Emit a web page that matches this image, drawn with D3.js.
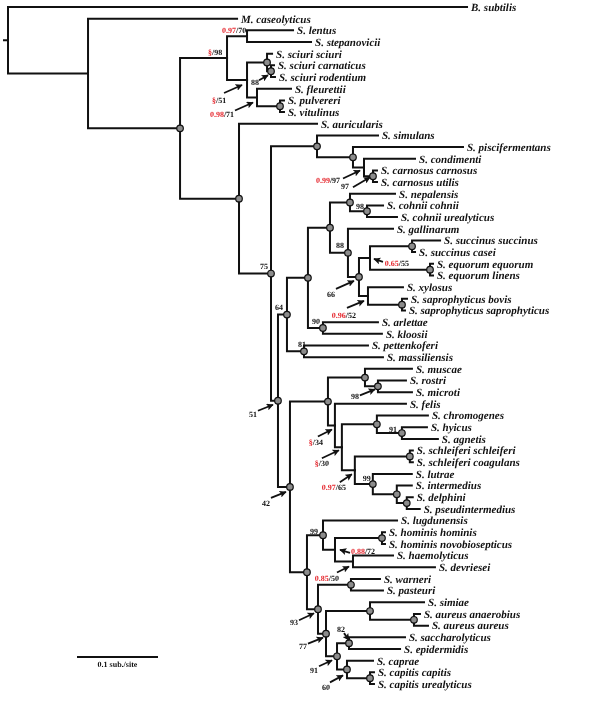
<!DOCTYPE html>
<html><head><meta charset="utf-8">
<script src="https://cdn.jsdelivr.net/npm/d3@7"></script>
<style>body{margin:0;background:#fff}svg{display:block}
svg text{-webkit-font-smoothing:antialiased;text-rendering:geometricPrecision}
.txt{opacity:0.999;will-change:transform}</style>
</head><body>
<svg id="chart" width="600" height="707"></svg>
<script>
// ---------- DATA ----------
// tree edges in preorder: [node, parent, branch length (sub./site)]
const edges = [
 ["root","",0],
 ["B. subtilis","root",0.5667],
 ["A","root",0.0988],
 ["M. caseolyticus","A",0.1840],
 ["B","A",0.1136],
 ["C","B",0.0580],
 ["D","C",0.0247],
 ["S. lentus","D",0.0568],
 ["S. stepanovicii","D",0.0790],
 ["E","C",0.0247],
 ["Sc","E",0.0247],
 ["S. sciuri sciuri","Sc",0.0062],
 ["Sc2","Sc",0.0049],
 ["S. sciuri carnaticus","Sc2",0.0037],
 ["S. sciuri rodentium","Sc2",0.0049],
 ["F","E",0.0123],
 ["S. fleurettii","F",0.0420],
 ["PV","F",0.0284],
 ["S. pulvereri","PV",0.0049],
 ["S. vitulinus","PV",0.0049],
 ["G","B",0.0728],
 ["S. auricularis","G",0.0963],
 ["H","G",0.0395],
 ["I","H",0.0568],
 ["S. simulans","I",0.0753],
 ["BA","I",0.0444],
 ["S. piscifermentans","BA",0.1358],
 ["BB","BA",0.0136],
 ["S. condimenti","BB",0.0630],
 ["CA","BB",0.0111],
 ["S. carnosus carnosus","CA",0.0049],
 ["S. carnosus utilis","CA",0.0049],
 ["J","H",0.0086],
 ["K","J",0.0111],
 ["M","K",0.0259],
 ["N","M",0.0272],
 ["O","N",0.0247],
 ["S. nepalensis","O",0.0556],
 ["CO","O",0.0210],
 ["S. cohnii cohnii","CO",0.0198],
 ["S. cohnii urealyticus","CO",0.0370],
 ["P","N",0.0222],
 ["S. gallinarum","P",0.0556],
 ["Q","P",0.0136],
 ["R","Q",0.0136],
 ["SU","R",0.0519],
 ["S. succinus succinus","SU",0.0346],
 ["S. succinus casei","SU",0.0037],
 ["EQ","R",0.0741],
 ["S. equorum equorum","EQ",0.0037],
 ["S. equorum linens","EQ",0.0037],
 ["S","Q",0.0111],
 ["S. xylosus","S",0.0432],
 ["SA","S",0.0420],
 ["S. saprophyticus bovis","SA",0.0062],
 ["S. saprophyticus saprophyticus","SA",0.0037],
 ["T","M",0.0185],
 ["S. arlettae","T",0.0679],
 ["S. kloosii","T",0.0728],
 ["U","K",0.0210],
 ["S. pettenkoferi","U",0.0790],
 ["S. massiliensis","U",0.0975],
 ["L","J",0.0148],
 ["V","L",0.0469],
 ["X","V",0.0457],
 ["S. muscae","X",0.0580],
 ["RM","X",0.0160],
 ["S. rostri","RM",0.0346],
 ["S. microti","RM",0.0420],
 ["Y","V",0.0086],
 ["S. felis","Y",0.0877],
 ["Z","Y",0.0086],
 ["AA","Z",0.0432],
 ["S. chromogenes","AA",0.0630],
 ["HY","AA",0.0309],
 ["S. hyicus","HY",0.0309],
 ["S. agnetis","HY",0.0444],
 ["AB","Z",0.0160],
 ["SCH","AB",0.0679],
 ["S. schleiferi schleiferi","SCH",0.0037],
 ["S. schleiferi coagulans","SCH",0.0037],
 ["AC","AB",0.0222],
 ["S. lutrae","AC",0.0481],
 ["AD","AC",0.0296],
 ["S. intermedius","AD",0.0185],
 ["DP","AD",0.0123],
 ["S. delphini","DP",0.0074],
 ["S. pseudintermedius","DP",0.0160],
 ["W","L",0.0210],
 ["AE","W",0.0198],
 ["S. lugdunensis","AE",0.0914],
 ["AG","AE",0.0148],
 ["HO","AG",0.0580],
 ["S. hominis hominis","HO",0.0037],
 ["S. hominis novobiosepticus","HO",0.0037],
 ["AH","AG",0.0222],
 ["S. haemolyticus","AH",0.0494],
 ["S. devriesei","AH",0.1012],
 ["AF","W",0.0136],
 ["AI","AF",0.0407],
 ["S. warneri","AI",0.0358],
 ["S. pasteuri","AI",0.0395],
 ["AJ","AF",0.0099],
 ["AK","AJ",0.0543],
 ["S. simiae","AK",0.0667],
 ["AU","AK",0.0543],
 ["S. aureus anaerobius","AU",0.0074],
 ["S. aureus aureus","AU",0.0173],
 ["AL","AJ",0.0136],
 ["AM","AL",0.0148],
 ["S. saccharolyticus","AM",0.0691],
 ["S. epidermidis","AM",0.0630],
 ["AN","AL",0.0123],
 ["S. caprae","AN",0.0321],
 ["CP","AN",0.0284],
 ["S. capitis capitis","CP",0.0049],
 ["S. capitis urealyticus","CP",0.0049]
];

// nodes marked with a grey circle
const circleNodes = ["B","G","I","BA","CA","O","CO","N","P","SU","EQ","Q","SA","M","H","K","T","U",
 "X","RM","V","J","AA","HY","SCH","AC","AD","DP","L","AE","HO","AI","W","AF","AK","AU","AJ","AM",
 "AL","AN","CP","Sc","Sc2","PV"];

// support values: node, posterior probability (red), bootstrap (black)
const supportNodes = ["C","D","E","F","Sc2","BB","CA","CO","P","R","Q","S","H","K","T","U","RM","J",
 "Y","Z","AB","HY","AC","L","AE","AG","AH","AF","AJ","AM","AL","AN"];
const supportPP = ["§","0.97","§","0.98","","0.99","","","","0.65","","0.96","","","","","","",
 "§","§","0.97","","","","","0.88","0.85","","","","",""];
const supportBS = ["98","70","51","71","88","97","97","98","88","55","66","52","75","64","90","81","98","51",
 "34","30","65","91","99","42","99","72","50","93","77","82","91","60"];

const scaleBarValue = 0.1;
const scaleBarLabel = "0.1 sub./site";

// ---------- LAYOUT (styling only) ----------
// t: text centre offset from node; a: arrow [tailDx, tailDy, headDx, headDy]
const labelPos = {
 C:{t:[-12,-6]}, D:{t:[-13,-6]},
 E:{t:[-28,20],a:[-23,13,-5,5]}, F:{t:[-35,17],a:[-22,13,-4,5]},
 Sc2:{t:[-16,11],a:[-12,9,-3,4]},
 BB:{t:[-36,13],a:[-21,11,-4,3]}, CA:{t:[-28,10],a:[-20,11,-3,1]},
 CO:{t:[-7,-5]}, P:{t:[-8,-8]},
 R:{t:[27,5],a:[13,4,4,1]}, Q:{t:[-28,17],a:[-23,12,-5,4]}, S:{t:[-24,19],a:[-21,12,-4,5]},
 H:{t:[-7,-7]}, K:{t:[-8,-7]}, T:{t:[-7,-7]}, U:{t:[-2,-7]},
 RM:{t:[-23,10],a:[-18,9,-3,3]}, J:{t:[-25,13],a:[-20,10,-5,4]},
 Y:{t:[-19,17],a:[-17,11,-3,4]}, Z:{t:[-20,16],a:[-20,11,-3,3]}, AB:{t:[-21,17],a:[-15,12,-3,4]},
 HY:{t:[-9,-4]}, AC:{t:[-6,-6]},
 L:{t:[-24,16],a:[-19,11,-4,5]}, AE:{t:[-9,-4]},
 AG:{t:[28,1],a:[15,3,5,0]}, AH:{t:[-26,17],a:[-16,11,-4,5]},
 AF:{t:[-24,13],a:[-19,11,-4,4]}, AJ:{t:[-23,13],a:[-18,10,-3,4]},
 AM:{t:[-8,-14],a:[-5,-10,0,-3]}, AL:{t:[-23,14],a:[-18,10,-5,4]}, AN:{t:[-21,18],a:[-17,13,-4,6]}
};

// ---------- BUILD ----------
const svg = d3.select("#chart");
const root = d3.stratify().id(d=>d[0]).parentId(d=>d[1]||null)(edges);
root.eachBefore(n => { n.depthLen = n.parent ? n.parent.depthLen + n.data[2] : 0; });
const leaves = root.leaves();
const x = d3.scaleLinear().domain([0, scaleBarValue]).range([8, 89]);
const y = d3.scaleLinear().domain([0, leaves.length - 1]).range([7, 684]);
leaves.forEach((l,i)=>{ l.py = y(i); });
root.eachAfter(n => {
  n.px = x(n.depthLen);
  if (n.children) n.py = (n.children[0].py + n.children[n.children.length-1].py)/2;
});
const byId = new Map(root.descendants().map(n=>[n.id,n]));

const defs = svg.append("defs");
defs.append("marker").attr("id","ah").attr("viewBox","0 0 10 10").attr("refX",9).attr("refY",5)
  .attr("markerWidth",7).attr("markerHeight",7).attr("markerUnits","userSpaceOnUse").attr("orient","auto")
  .append("path").attr("d","M0,0L10,5L0,10L2,5Z").attr("fill","#111");

const g = svg.append("g");
// root stub
g.append("path").attr("d",`M3,${root.py}H${root.px}`).attr("stroke","#111").attr("stroke-width",2).attr("fill","none");
g.selectAll("path.link").data(root.links()).join("path").attr("class","link")
  .attr("d",d=>`M${d.source.px},${d.source.py}V${d.target.py}H${d.target.px}`)
  .attr("fill","none").attr("stroke","#111").attr("stroke-width",2).attr("stroke-linecap","square");

g.selectAll("circle.nd").data(circleNodes.map(id=>byId.get(id))).join("circle").attr("class","nd")
  .attr("cx",d=>d.px).attr("cy",d=>d.py).attr("r",3.3)
  .attr("fill","#8c8c8c").attr("stroke","#111").attr("stroke-width",1.2);

const tg = svg.append("g").attr("class","txt");
tg.selectAll("text.leaf").data(leaves).join("text").attr("class","leaf")
  .attr("x",d=>d.px+4).attr("y",d=>d.py).attr("dy","0.35em")
  .attr("font-family","'Liberation Serif','Times New Roman',serif").attr("font-weight","bold")
  .attr("font-style","italic").attr("font-size",11).attr("fill","#111").text(d=>d.id);

// support labels
supportNodes.forEach((id,i)=>{
  const n = byId.get(id), p = labelPos[id];
  if (p.a) {
    g.append("line").attr("x1",n.px+p.a[0]).attr("y1",n.py+p.a[1]).attr("x2",n.px+p.a[2]).attr("y2",n.py+p.a[3])
      .attr("stroke","#111").attr("stroke-width",1.8).attr("marker-end","url(#ah)");
  }
  const t = tg.append("text").attr("x",n.px+p.t[0]).attr("y",n.py+p.t[1]).attr("dy","0.35em")
    .attr("text-anchor","middle").attr("font-family","'Liberation Serif','Times New Roman',serif")
    .attr("font-weight","bold").attr("font-size",8).attr("fill","#111");
  if (supportPP[i]) {
    t.append("tspan").attr("fill","#e5262d").text(supportPP[i]);
    t.append("tspan").text("/" + supportBS[i]);
  } else t.append("tspan").text(supportBS[i]);
});

// scale bar
const sbW = x(scaleBarValue) - x(0);
svg.append("line").attr("x1",77).attr("x2",77+sbW).attr("y1",657).attr("y2",657).attr("stroke","#111").attr("stroke-width",2);
tg.append("text").attr("x",77+sbW/2).attr("y",664).attr("dy","0.35em").attr("text-anchor","middle")
  .attr("font-family","'Liberation Serif','Times New Roman',serif").attr("font-weight","bold").attr("font-size",8)
  .attr("fill","#111").text(scaleBarLabel);
</script>
</body></html>
